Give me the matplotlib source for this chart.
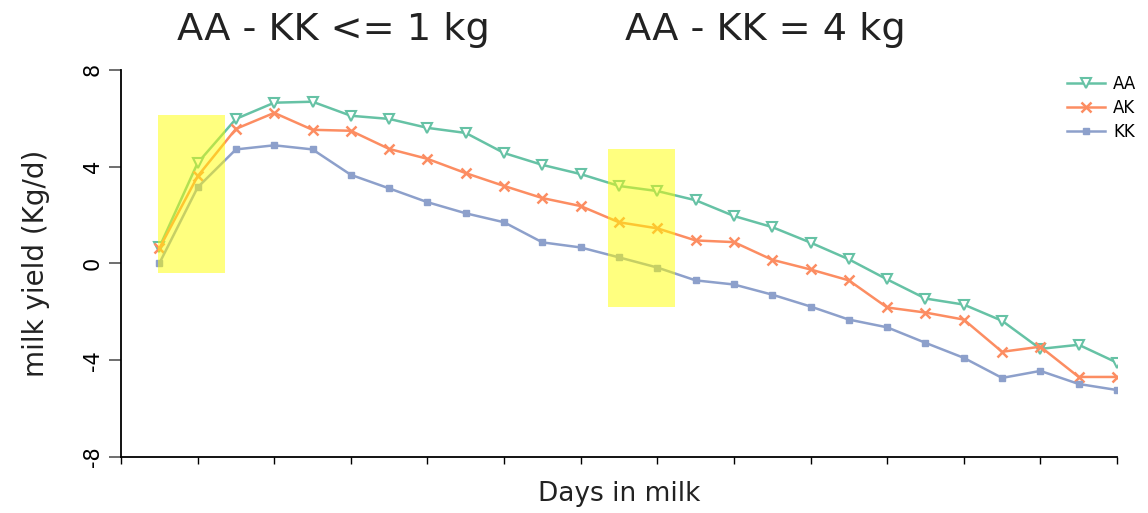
import matplotlib
matplotlib.use("Agg")
import matplotlib.pyplot as plt
from matplotlib.patches import Rectangle

# data (26 test days, x positions are just the index)
days = list(range(26))
aa = [0.66, 4.15, 5.97, 6.64, 6.68, 6.10, 5.97, 5.60, 5.39, 4.56, 4.07, 3.69, 3.20,
      2.99, 2.61, 1.96, 1.50, 0.86, 0.17, -0.66, -1.45, -1.70, -2.37, -3.53, -3.36, -4.10]
ak = [0.62, 3.60, 5.56, 6.22, 5.52, 5.48, 4.73, 4.32, 3.73, 3.20, 2.70, 2.37, 1.70,
      1.45, 0.95, 0.88, 0.15, -0.25, -0.70, -1.82, -2.03, -2.32, -3.65, -3.44, -4.69, -4.69]
kk = [0.00, 3.14, 4.71, 4.88, 4.71, 3.66, 3.10, 2.53, 2.07, 1.70, 0.87, 0.66, 0.25,
      -0.17, -0.70, -0.87, -1.29, -1.78, -2.32, -2.64, -3.28, -3.90, -4.73, -4.44, -4.98, -5.23]
yticks = [-8, -4, 0, 4, 8]
titles = ["AA - KK <= 1 kg", "AA - KK = 4 kg"]
# highlighted windows (x0, x1, y0, y1) in data units
windows = [(-0.03, 1.72, -0.41, 6.14), (11.7, 13.45, -1.82, 4.73)]

green, orange, blue = "#66c2a5", "#fc8d62", "#8da0cb"
textc = "#222222"

fig = plt.figure(figsize=(11.48, 5.13), dpi=100)
ax = fig.add_axes([0.1054, 0.109, 0.8676, 0.755])

ax.plot(days, aa, color=green, lw=1.8, marker="v", ms=6.5, mfc="white",
        mec=green, mew=1.5, label="AA")
ax.plot(days, ak, color=orange, lw=1.8, marker="x", ms=6.5, mew=1.8, label="AK")
ax.plot(days, kk, color=blue, lw=1.8, marker="s", ms=4, label="KK")

for x0, x1, y0, y1 in windows:
    ax.add_patch(Rectangle((x0, y0), x1 - x0, y1 - y0, facecolor="yellow",
                           alpha=0.5, edgecolor="none", zorder=5))

ax.set_xlim(-1, 25)
ax.set_ylim(-8, 8)
ax.set_xticks(range(-1, 26, 2))
ax.set_xticklabels([])
ax.set_yticks(yticks)
ax.set_yticklabels([str(t) for t in yticks], rotation=90, va="center", fontsize=15)
ax.tick_params(axis="x", direction="out", length=5, width=1)
ax.tick_params(axis="y", direction="out", length=9, width=1.2, pad=4, colors="#555555",
               labelcolor="black")
for s in ["top", "right"]:
    ax.spines[s].set_visible(False)
for s in ["left", "bottom"]:
    ax.spines[s].set_linewidth(1.3)

ax.set_ylabel("milk yield (Kg/d)", fontsize=20, labelpad=24, color=textc)
ax.set_xlabel("Days in milk", fontsize=19, labelpad=9, color=textc)

fig.text(333 / 1148, 1 - 30 / 513, titles[0], ha="center", va="center",
         fontsize=27.5, color=textc)
fig.text(765 / 1148, 1 - 30 / 513, titles[1], ha="center", va="center",
         fontsize=27.5, color=textc)

fig.legend(loc="upper left", bbox_to_anchor=(1060 / 1148, 1 - 68 / 513),
           frameon=False, fontsize=12, handlelength=2.3, labelspacing=0.38,
           handletextpad=0.5, borderaxespad=0)

fig.savefig("out.png", dpi=100)
